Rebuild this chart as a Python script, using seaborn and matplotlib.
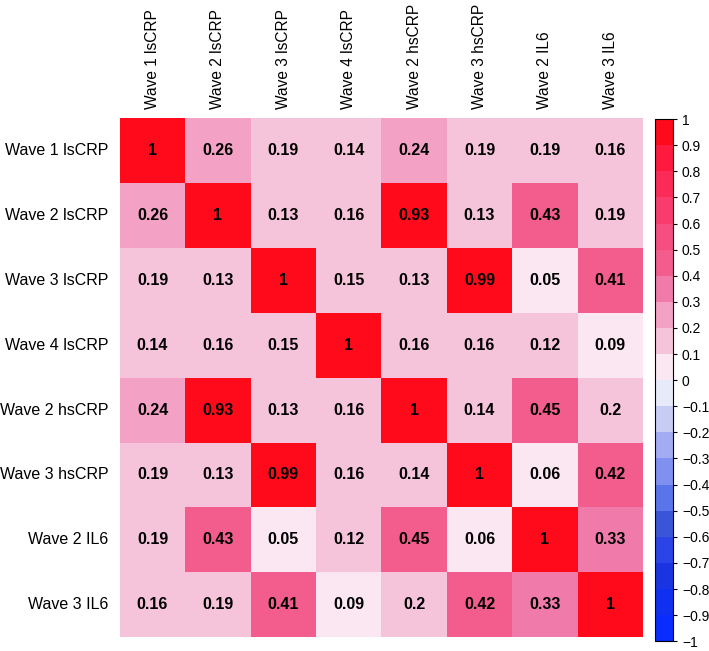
import numpy as np
import pandas as pd
import matplotlib
matplotlib.use("Agg")
import matplotlib.pyplot as plt
from matplotlib.colors import ListedColormap, BoundaryNorm
import seaborn as sns

labels = ["Wave 1 lsCRP", "Wave 2 lsCRP", "Wave 3 lsCRP", "Wave 4 lsCRP",
          "Wave 2 hsCRP", "Wave 3 hsCRP", "Wave 2 IL6", "Wave 3 IL6"]

r_w1_ls = [1, 0.26, 0.19, 0.14, 0.24, 0.19, 0.19, 0.16]
r_w2_ls = [0.26, 1, 0.13, 0.16, 0.93, 0.13, 0.43, 0.19]
r_w3_ls = [0.19, 0.13, 1, 0.15, 0.13, 0.99, 0.05, 0.41]
r_w4_ls = [0.14, 0.16, 0.15, 1, 0.16, 0.16, 0.12, 0.09]
r_w2_hs = [0.24, 0.93, 0.13, 0.16, 1, 0.14, 0.45, 0.2]
r_w3_hs = [0.19, 0.13, 0.99, 0.16, 0.14, 1, 0.06, 0.42]
r_w2_il = [0.19, 0.43, 0.05, 0.12, 0.45, 0.06, 1, 0.33]
r_w3_il = [0.16, 0.19, 0.41, 0.09, 0.2, 0.42, 0.33, 1]

cbar_ticks = [round(-1 + 0.1 * i, 1) for i in range(21)]

# 20 discrete bins from -1 to 1 (blue -> white -> red)
bin_colors = ["#0a2cff", "#1030f0", "#1a34e2", "#2a44e6", "#3a56d8",
              "#5a74ea", "#8090f0", "#a2acf2", "#c6ccf4", "#e7eaf8",
              "#fbe7f1", "#f6c4da", "#f3a1c4", "#f07bab", "#f25d8d",
              "#f44f80", "#f83c6e", "#fb2b58", "#fd1a3e", "#fe0a1a"]

df = pd.DataFrame([r_w1_ls, r_w2_ls, r_w3_ls, r_w4_ls,
                   r_w2_hs, r_w3_hs, r_w2_il, r_w3_il],
                  index=labels, columns=labels)

cmap = ListedColormap(bin_colors)
norm = BoundaryNorm(np.linspace(-1, 1, 21), cmap.N)

plt.rcParams['font.family'] = ['Liberation Sans', 'DejaVu Sans']

fig = plt.figure(figsize=(7.09, 6.51), dpi=100)
ax = fig.add_axes([0.169, 0.021, 0.738, 0.798])
cax = fig.add_axes([0.924, 0.015, 0.025, 0.802])

sns.heatmap(df, ax=ax, cbar_ax=cax, cmap=cmap, norm=norm, vmin=-1, vmax=1,
            annot=True, fmt='g',
            annot_kws={'color': 'black', 'fontweight': 'bold', 'fontsize': 11.5})

ax.xaxis.tick_top()
ax.set_xticklabels(labels, rotation=90, fontsize=11.2)
ax.set_yticklabels(labels, rotation=0, fontsize=11.5)
ax.tick_params(axis='y', length=0, pad=8)
ax.tick_params(axis='x', length=0, pad=6)

cb = ax.collections[0].colorbar
cb.set_ticks(cbar_ticks)
cb.set_ticklabels([f"{t:g}".replace('-', '\u2212') for t in cbar_ticks])
cb.ax.tick_params(labelsize=10, length=3, width=0.8)
cb.outline.set_visible(True)
cb.outline.set_edgecolor('black')
cb.outline.set_linewidth(0.8)

fig.savefig("out.png", dpi=100)
